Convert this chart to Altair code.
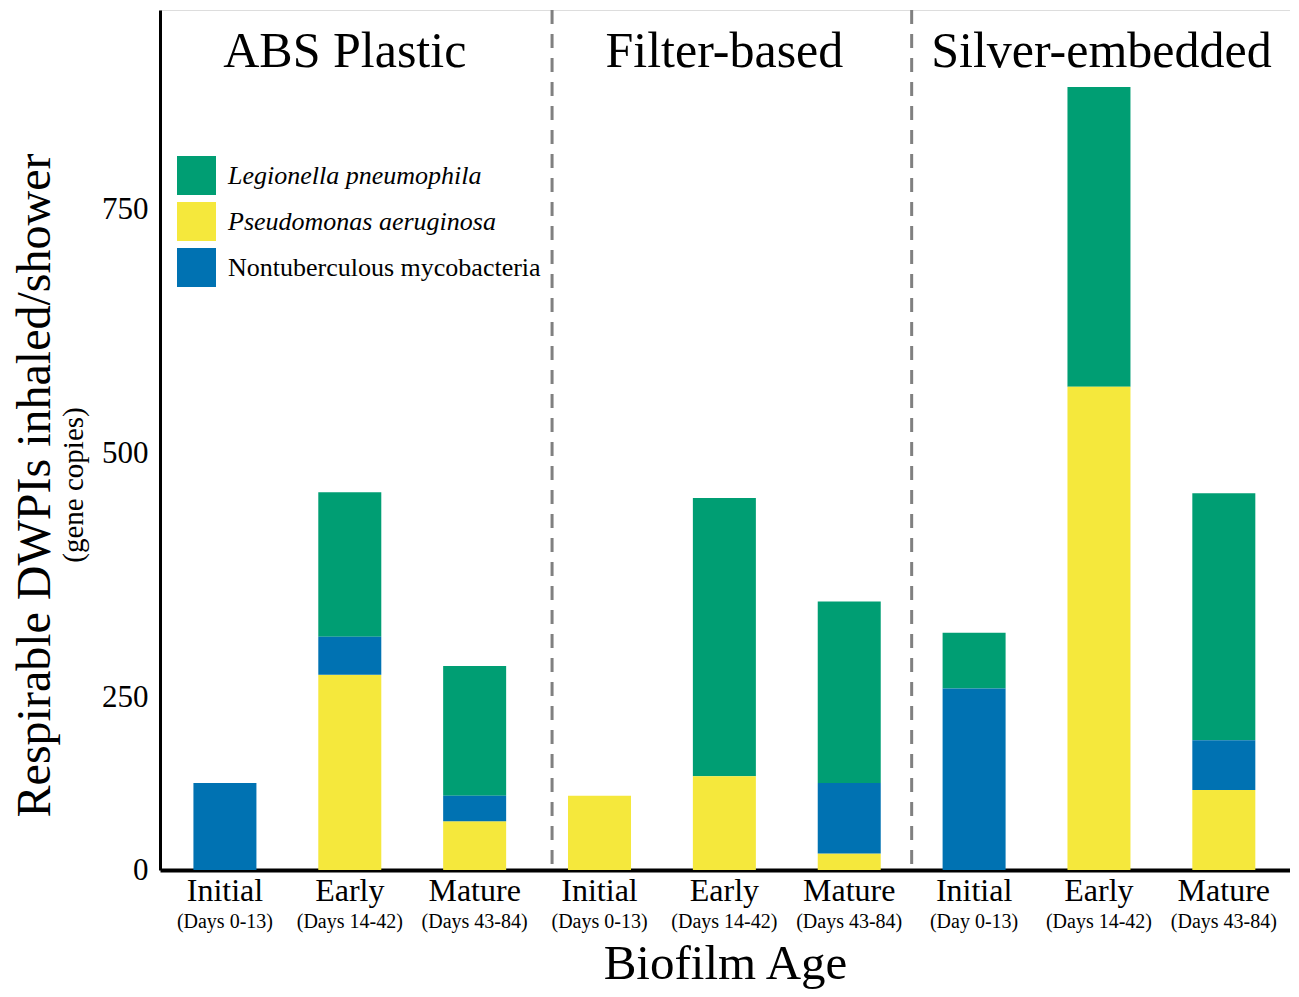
import altair as alt
import pandas as pd

# ---- data ----
groups = ["ABS Plastic", "Filter-based", "Silver-embedded"]
stages = ["Initial", "Early", "Mature"]
day_labels = ["(Days 0-13)", "(Days 14-42)", "(Days 43-84)",
              "(Days 0-13)", "(Days 14-42)", "(Days 43-84)",
              "(Day 0-13)", "(Days 14-42)", "(Days 43-84)"]
species = ["Legionella pneumophila", "Pseudomonas aeruginosa", "Nontuberculous mycobacteria"]
stack_rank = [3, 1, 2]  # bottom -> top: Pseudomonas, NTM, Legionella
legionella = [0, 148, 133, 0, 285, 186, 57, 307, 253]
pseudomonas = [0, 273, 123, 149, 169, 90, 0, 568, 155]
ntm = [162, 39, 26, 0, 0, 72, 259, 0, 51]
y_ticks = [73, 250, 500, 750]
y_domain = [73, 954]
separators = [2.62, 5.5]
colors = ["#009E73", "#F5E83C", "#0072B2"]

FONT = "Liberation Serif"

rows = []
series = [legionella, pseudomonas, ntm]
for gi, g in enumerate(groups):
    for si, s in enumerate(stages):
        i = gi * 3 + si
        for k, sp in enumerate(species):
            rows.append({"pos": i, "group": g, "stage": s, "species": sp,
                         "value": series[k][i], "rank": stack_rank[k]})
df = pd.DataFrame(rows)

lab = pd.DataFrame({"pos": list(range(9)),
                    "stage": [s for _ in groups for s in stages],
                    "days": day_labels})
grp = pd.DataFrame({"group": groups, "pos": [0.96, 4, 7.02]})
sep = pd.DataFrame({"pos": separators})

W, H = 1130, 860
xscale = alt.Scale(domain=[-0.52, 8.53], nice=False, zero=False, padding=0)

bars = alt.Chart(df).mark_bar(clip=True, size=63).encode(
    x=alt.X("pos:Q", scale=xscale,
            axis=alt.Axis(labels=False, ticks=False, grid=False, title="Biofilm Age",
                          domainColor="black", domainWidth=4,
                          titleFont=FONT, titleFontSize=49, titleFontWeight="normal",
                          titleColor="black", titleY=93, titleBaseline="middle")),
    y=alt.Y("value:Q", stack="zero",
            scale=alt.Scale(domain=y_domain, nice=False, zero=False),
            axis=alt.Axis(values=y_ticks, ticks=False, grid=False,
                          labelExpr="datum.value < 100 ? '0' : datum.label",
                          labelFont=FONT, labelFontSize=31, labelColor="black",
                          labelPadding=12, domainColor="black", domainWidth=3,
                          title="Respirable DWPIs inhaled/shower",
                          titleFont=FONT, titleFontSize=48, titleFontWeight="normal",
                          titleColor="black", titleAngle=270, titleX=-125, titleY=475,
                          titleAlign="center", titleBaseline="middle")),
    color=alt.Color("species:N",
                    scale=alt.Scale(domain=species, range=colors),
                    legend=alt.Legend(title=None, orient="none", legendX=13, legendY=142,
                                      symbolType="square", symbolSize=1521,
                                      symbolStrokeWidth=0, symbolOpacity=1,
                                      labelFont=FONT, labelFontSize=26, labelColor="black",
                                      labelFontStyle=alt.ExprRef(
                                          expr="datum.label == 'Nontuberculous mycobacteria' ? 'normal' : 'italic'"),
                                      labelOffset=12, labelLimit=500, rowPadding=7,
                                      padding=4)),
    order=alt.Order("rank:Q", sort="ascending"),
)

rules = alt.Chart(sep).mark_rule(color="#808080", strokeWidth=3, strokeDash=[14, 10]).encode(
    x=alt.X("pos:Q", scale=xscale)
)

stage_text = alt.Chart(lab).mark_text(font=FONT, fontSize=32, color="black",
                                      baseline="middle", align="center").encode(
    x=alt.X("pos:Q", scale=xscale), y=alt.value(H + 21), text="stage:N"
)
day_text = alt.Chart(lab).mark_text(font=FONT, fontSize=20, color="black",
                                    baseline="middle", align="center").encode(
    x=alt.X("pos:Q", scale=xscale), y=alt.value(H + 52), text="days:N"
)
group_text = alt.Chart(grp).mark_text(font=FONT, fontSize=50, color="black",
                                      baseline="middle", align="center").encode(
    x=alt.X("pos:Q", scale=xscale), y=alt.value(42), text="group:N"
)
sub_title = alt.Chart(grp.head(1)).mark_text(font=FONT, fontSize=29, color="black",
                                             baseline="middle", align="center",
                                             angle=270).encode(
    x=alt.value(-86), y=alt.value(475), text=alt.value("(gene copies)")
)

chart = alt.layer(rules, bars, stage_text, day_text, group_text, sub_title).properties(
    width=W, height=H,
    autosize=alt.AutoSizeParams(type="none"),
    padding={"left": 152, "top": 2, "right": 0, "bottom": 120},
).configure_view(stroke=None).configure(background="white")

chart.save("out.html", embed_options={"renderer": "svg", "actions": False})
